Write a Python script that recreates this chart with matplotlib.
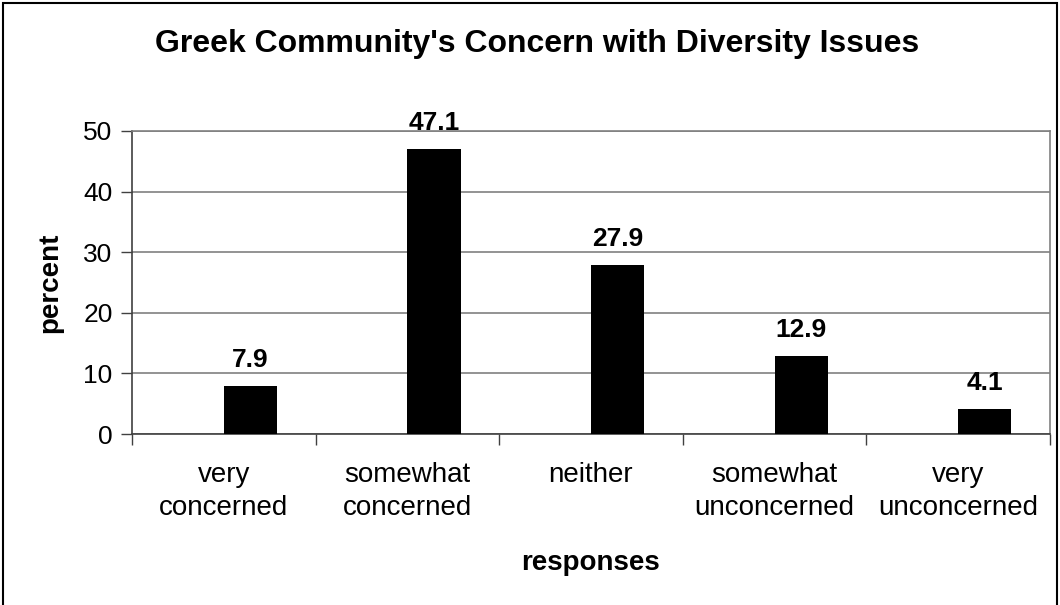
import numpy as np
import matplotlib.pyplot as plt
from matplotlib.patches import Rectangle

plt.rcParams['font.family'] = ['Liberation Sans', 'DejaVu Sans']

categories = ['very\nconcerned', 'somewhat\nconcerned', 'neither',
              'somewhat\nunconcerned', 'very\nunconcerned']
percent = [7.9, 47.1, 27.9, 12.9, 4.1]
y_ticks = [0, 10, 20, 30, 40, 50]

fig = plt.figure(figsize=(10.6, 6.05), dpi=100)
ax = fig.add_axes([0.1245, 0.2826, 0.8661, 0.5009])

x = np.arange(len(categories))
bar_w = 0.29
# bars sit in the right half of each category slot
bars = ax.bar(x + bar_w / 2, percent, width=bar_w, color='black', zorder=3)
for xi, v in zip(x, percent):
    ax.text(xi + bar_w / 2, v + 2.3, f'{v:.1f}', ha='center', va='bottom',
            fontsize=19, fontweight='bold')

ax.set_xlim(-0.5, len(categories) - 0.5)
ax.set_ylim(0, 50)
ax.set_yticks(y_ticks)
ax.yaxis.grid(True, color='#808080', linewidth=1.2, zorder=0)
ax.tick_params(axis='y', labelsize=19, length=8, width=1, color='#404040', pad=6)

# category ticks at slot boundaries, labels at slot centers
ax.set_xticks(np.arange(len(categories) + 1) - 0.5)
ax.set_xticklabels([])
ax.set_xticks(x, minor=True)
ax.set_xticklabels(categories, minor=True, fontsize=20, linespacing=1.35)
ax.tick_params(axis='x', which='major', length=8, width=1, color='#404040')
ax.tick_params(axis='x', which='minor', length=0, pad=20)

for side in ['top', 'right']:
    ax.spines[side].set_color('#808080')
    ax.spines[side].set_linewidth(1.2)
for side in ['left', 'bottom']:
    ax.spines[side].set_color('#404040')
    ax.spines[side].set_linewidth(1.2)

fig.text(0.507, 0.927, "Greek Community's Concern with Diversity Issues",
         ha='center', va='center', fontsize=23, fontweight='bold')
fig.text(0.047, 0.532, 'percent', rotation=90, ha='center', va='center',
         fontsize=20, fontweight='bold')
fig.text(0.557, 0.069, 'responses', ha='center', va='center',
         fontsize=20, fontweight='bold')

fig.patches.append(Rectangle((0.003, -0.01), 0.994, 1.005, transform=fig.transFigure,
                             fill=False, edgecolor='black', linewidth=1.5))

fig.savefig('out.png', dpi=100)
